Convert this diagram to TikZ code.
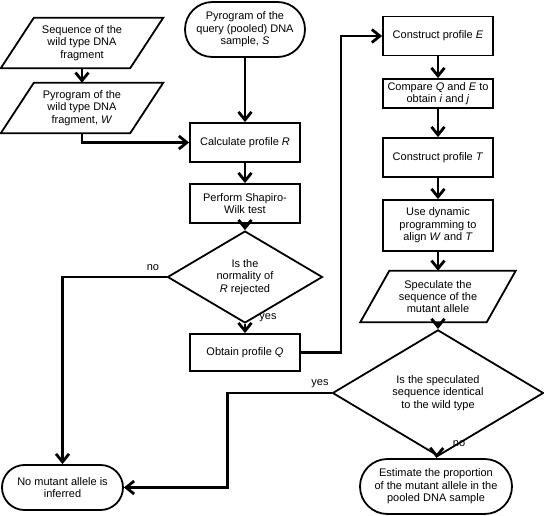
\documentclass[tikz,border=0pt]{standalone}
\usepackage{fontspec}
\setmainfont{Liberation Sans}
\usetikzlibrary{arrows.meta,shapes.geometric}
\begin{document}
\begin{tikzpicture}[x=1pt,y=-1pt,
  txt/.style={font=\fontsize{11}{12.4}\selectfont, align=center, inner sep=0pt},
  box/.style={txt, draw, line width=1.8pt, minimum width=110pt, minimum height=39pt},
  stad/.style={txt, draw, line width=1.8pt, rounded corners=#1},
  dia/.style={txt, draw, line width=1.8pt, diamond, inner sep=0pt},
  para/.style={txt, minimum height=50pt},
  pline/.style={line width=1.8pt, line join=miter},
  arr/.style={line width=2.8pt, -{Straight Barb[length=8pt,width=13pt]}},
  lab/.style={font=\fontsize{11}{12.4}\selectfont, inner sep=0pt}]
\useasboundingbox (0,0) rectangle (544,516);

% left column
\node[para, minimum width=129pt] (seq) at (82,43) {Sequence of the\\wild type DNA\\fragment};
\draw[pline] ([xshift=-16.5pt]seq.south west) -- ([xshift=-16.5pt]seq.south east) -- ([xshift=16.5pt]seq.north east) -- ([xshift=16.5pt]seq.north west) -- cycle;
\node[para, minimum width=129pt] (W) at (82,108) {Pyrogram of the\\wild type DNA\\fragment, \textit{W}};
\draw[pline] ([xshift=-16.5pt]W.south west) -- ([xshift=-16.5pt]W.south east) -- ([xshift=16.5pt]W.north east) -- ([xshift=16.5pt]W.north west) -- cycle;

% middle column
\node[stad=27.5pt, minimum width=120pt, minimum height=55pt] (S) at (245,29.5) {Pyrogram of the\\query (pooled) DNA\\sample, \textit{S}};
\node[box] (R) at (245,142.5) {Calculate profile \textit{R}};
\node[box] (SW) at (245,203.5) {Perform Shapiro-\\Wilk test};
\node[dia, minimum width=155pt, minimum height=64pt] (D1) at (245,277) {Is the\\normality of\\\textit{R} rejected};
\node[box, minimum height=37pt] (Q) at (245,352.5) {Obtain profile \textit{Q}};
\node[stad=22.5pt, minimum width=121pt, minimum height=45pt] (No) at (62.5,487.5) {No mutant allele is\\inferred};

% right column
\node[box] (E) at (438,36) {Construct profile \textit{E}};
\node[box, minimum height=29pt] (C) at (438,93.5) {Compare \textit{Q} and \textit{E} to\\obtain \textit{i} and \textit{j}};
\node[box] (T) at (438,157.5) {Construct profile \textit{T}};
\node[box, minimum height=51pt] (DP) at (438,225.5) {Use dynamic\\programming to\\align \textit{W} and \textit{T}};
\node[para, minimum width=126pt, minimum height=51pt] (Sp) at (438,296.5) {Speculate the\\sequence of the\\mutant allele};
\draw[pline] ([xshift=-14.5pt]Sp.south west) -- ([xshift=-14.5pt]Sp.south east) -- ([xshift=14.5pt]Sp.north east) -- ([xshift=14.5pt]Sp.north west) -- cycle;
\node[dia, minimum width=211pt, minimum height=88pt] (D2) at (438,393) {Is the speculated\\sequence identical\\to the wild type};
\node[stad=27.5pt, minimum width=152pt, minimum height=55pt] (Est) at (436,486.5) {Estimate the proportion\\of the mutant allele in the\\pooled DNA sample};

% connectors
\draw[arr] (seq) -- (W);
\draw[arr] (W.south) |- (R.west);
\draw[arr] (S) -- (R);
\draw[arr] (R) -- (SW);
\draw[arr] (SW) -- (D1);
\draw[arr] (D1) -- (Q);
\node[lab] (yes1) at (268,318) {yes};
\draw[arr] (D1.west) -| (No.north);
\node[lab] (no1) at (153,268) {no};
\draw[arr] (Q.east) -- ++(40,0) |- (E.west);
\draw[arr] (E) -- (C);
\draw[arr] (C) -- (T);
\draw[arr] (T) -- (DP);
\draw[arr] (DP) -- (Sp);
\draw[arr] (Sp) -- (D2);
\draw[arr] (D2) -- (Est);
\node[lab] (no2) at (459,444) {no};
\draw[arr] (D2.west) -- ++(-104,0) |- (No.east);
\node[lab] (yes2) at (320,384) {yes};
\end{tikzpicture}
\end{document}
